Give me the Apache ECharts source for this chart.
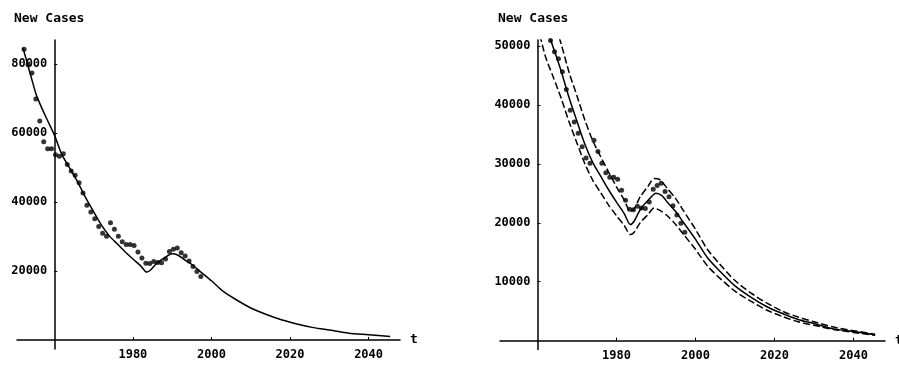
<!DOCTYPE html>
<html>
<head>
<meta charset="utf-8">
<script src="https://cdn.jsdelivr.net/npm/echarts@6/dist/echarts.min.js"></script>
<style>
  html, body { margin: 0; padding: 0; background: #fff; }
  #chart { width: 899px; height: 373px; }
</style>
</head>
<body>
<div id="chart"></div>
<script>
// axes cross at t = 1960
const BASE_YEAR = 1960;

// reported new cases (dots)
const caseYears = [1952.3, 1953.3, 1954.3, 1955.3, 1956.3, 1957.3, 1958.3, 1959.3, 1960.3, 1961.3,
  1962.3, 1963.3, 1964.3, 1965.3, 1966.3, 1967.3, 1968.3, 1969.3, 1970.3, 1971.3,
  1972.3, 1973.3, 1974.3, 1975.3, 1976.3, 1977.3, 1978.3, 1979.3, 1980.3, 1981.3,
  1982.3, 1983.3, 1984.3, 1985.3, 1986.3, 1987.3, 1988.3, 1989.3, 1990.3, 1991.3,
  1992.3, 1993.3, 1994.3, 1995.3, 1996.3, 1997.3];
const newCases = [84300, 79800, 77400, 69900, 63500, 57500, 55500, 55500, 53700, 53300,
  54000, 50900, 49000, 47800, 45600, 42600, 39100, 37100, 35200, 32900,
  31000, 30100, 34000, 32100, 30100, 28500, 27700, 27700, 27400, 25500,
  23800, 22300, 22200, 22800, 22500, 22400, 23500, 25700, 26300, 26700,
  25300, 24400, 22900, 21300, 19900, 18400];

// model curve (solid)
const fitYears = [1952, 1954, 1955.5, 1958, 1960, 1962, 1964, 1966, 1968, 1970,
  1972, 1974, 1976, 1978, 1980, 1982, 1983.5, 1984.5, 1986, 1988,
  1990, 1991.5, 1993, 1995, 1997, 2000, 2003, 2006, 2010, 2014,
  2018, 2022, 2026, 2030, 2035, 2040, 2045.5];
const fitCases = [84800, 76700, 70800, 64300, 59500, 53600, 49700, 45700, 41200, 37200,
  33300, 30200, 27900, 25600, 23500, 21500, 19700, 20300, 22200, 23800,
  25000, 24600, 23400, 21900, 20000, 17200, 14100, 11900, 9300, 7400,
  5800, 4600, 3600, 2900, 2000, 1550, 1000];

// upper / lower bounds (dashed, right panel)
const bandYears = [1960, 1962, 1964, 1966, 1968, 1970, 1972, 1974, 1976, 1978,
  1980, 1982, 1983.5, 1984.5, 1986, 1988, 1989.5, 1991, 1993, 1995,
  1997, 2000, 2003, 2006, 2010, 2014, 2018, 2022, 2026, 2030,
  2035, 2040, 2045.5];
const upperCases = [64500, 58900, 54600, 50300, 45500, 41500, 37400, 33900, 31200, 28600,
  26100, 23800, 21900, 22400, 24400, 26200, 27500, 27300, 25700, 24100,
  22000, 18900, 15500, 13100, 10200, 8100, 6400, 5000, 4000, 3200,
  2300, 1700, 1100];
const lowerCases = [53500, 48200, 44700, 41100, 37100, 33500, 30000, 27200, 25100, 23000,
  21200, 19500, 18000, 18400, 20000, 21400, 22500, 22100, 21100, 19700,
  18000, 15500, 12700, 10700, 8400, 6700, 5200, 4100, 3200, 2600,
  1900, 1400, 900];

const xTickYears = [1980, 2000, 2020, 2040];
const yTicksLeft = [20000, 40000, 60000, 80000];
const yTicksRight = [10000, 20000, 30000, 40000, 50000];

const X_MIN = 1950.5, X_MAX = 2048;

function pairs(years, values) {
  return years.map((y, i) => [y - BASE_YEAR, values[i]]);
}

const ink = '#000';
const font = { fontFamily: 'DejaVu Sans Mono', fontWeight: 'bold', fontSize: 12, color: ink };

const grids = [
  { left: 17, right: 499, top: 40, bottom: 24, outerBoundsMode: 'none' },
  { left: 500, right: 14, top: 40, bottom: 23.5, outerBoundsMode: 'none' }
];
const W = 899, H = 373;

// shift the axes inside the grid so they cross at (1960, 0)
function xAxisOffset(g, yMin, yMax) {
  const h = H - g.top - g.bottom;
  return -(0 - yMin) / (yMax - yMin) * h;
}
function yAxisOffset(g) {
  const w = W - g.left - g.right;
  return -(BASE_YEAR - X_MIN) / (X_MAX - X_MIN) * w;
}

function makeXAxis(gridIndex, yMin, yMax) {
  const ticks = xTickYears.map(y => y - BASE_YEAR);
  return {
    type: 'value',
    gridIndex: gridIndex,
    min: X_MIN - BASE_YEAR,
    max: X_MAX - BASE_YEAR,
    offset: xAxisOffset(grids[gridIndex], yMin, yMax),
    name: 't',
    nameLocation: 'end',
    nameGap: 10,
    nameTextStyle: Object.assign({}, font, { fontSize: 13 }),
    axisLine: { show: true, onZero: false, lineStyle: { color: ink, width: 1.5 } },
    axisTick: { show: true, inside: true, length: 3, customValues: ticks, lineStyle: { color: ink } },
    axisLabel: Object.assign({}, font, {
      customValues: ticks,
      margin: 9,
      formatter: v => String(Math.round(v + BASE_YEAR))
    }),
    splitLine: { show: false }
  };
}

function makeYAxis(gridIndex, min, max, ticks) {
  return {
    type: 'value',
    gridIndex: gridIndex,
    min: min,
    max: max,
    offset: yAxisOffset(grids[gridIndex]),
    axisLine: { show: true, onZero: false, lineStyle: { color: ink, width: 1.5 } },
    axisTick: { show: true, inside: true, length: 3, customValues: ticks, lineStyle: { color: ink } },
    axisLabel: Object.assign({}, font, {
      customValues: ticks,
      margin: 7,
      formatter: v => String(v)
    }),
    splitLine: { show: false }
  };
}

function curve(data, axis, dashed) {
  return {
    type: 'line',
    xAxisIndex: axis,
    yAxisIndex: axis,
    data: data,
    symbol: 'none',
    smooth: 0.25,
    clip: true,
    lineStyle: { color: ink, width: 1.5, type: dashed ? [7, 3] : 'solid' }
  };
}

function dots(axis) {
  return {
    type: 'scatter',
    xAxisIndex: axis,
    yAxisIndex: axis,
    data: pairs(caseYears, newCases),
    symbol: 'circle',
    symbolSize: 5,
    clip: true,
    itemStyle: { color: ink }
  };
}

const chart = echarts.init(document.getElementById('chart'));

chart.setOption({
  animation: false,
  backgroundColor: '#fff',
  title: [
    { text: 'New Cases', left: 9, top: 7, textStyle: Object.assign({}, font, { fontSize: 13 }) },
    { text: 'New Cases', left: 493, top: 7, textStyle: Object.assign({}, font, { fontSize: 13 }) }
  ],
  grid: grids,
  xAxis: [makeXAxis(0, -2600, 87000), makeXAxis(1, -1500, 51000)],
  yAxis: [
    makeYAxis(0, -2600, 87000, yTicksLeft),
    makeYAxis(1, -1500, 51000, yTicksRight)
  ],
  series: [
    curve(pairs(fitYears, fitCases), 0, false),
    dots(0),
    curve(pairs(fitYears, fitCases), 1, false),
    curve(pairs(bandYears, upperCases), 1, true),
    curve(pairs(bandYears, lowerCases), 1, true),
    dots(1)
  ]
});
</script>
</body>
</html>
